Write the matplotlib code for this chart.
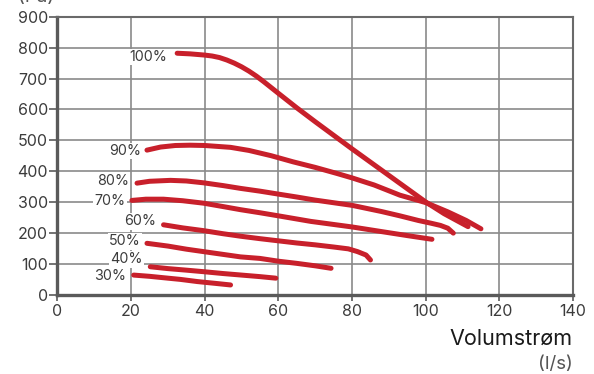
import matplotlib

matplotlib.use("Agg")

import matplotlib.pyplot as plt

plt.rcParams["font.family"] = ["Inter", "DejaVu Sans"]

RED = "#c8202b"
GRID = "#8a8a8a"
AXIS = "#5a5a5a"
TEXT = "#3c3c3c"

# fan curves: flow (l/s) vs pressure (Pa)
x_100 = [32.5, 36, 40, 42, 44, 46, 48, 50, 52, 54, 56, 58, 60, 65, 70, 75, 80,
         85, 90, 95, 100, 105, 111.5]
y_100 = [782, 780, 776, 773, 768, 760, 750, 738, 724, 708, 690, 671, 652, 605, 560, 516,
         472, 429, 386, 343, 300, 262, 220]

x_90 = [24.3, 28, 32, 36, 40, 47, 52, 58, 64, 70, 76, 80, 86, 93, 100, 106, 111, 115]
y_90 = [468, 478, 483, 484, 483, 477, 467, 450, 430, 412, 392, 378, 355, 322, 298, 268, 240, 213]

x_80 = [21.6, 25, 30.7, 35, 39.7, 45, 49.7, 55, 59.7, 65, 70, 80, 88, 93, 98, 101.5, 104, 106, 107.5]
y_80 = [361, 367, 370, 368, 362, 353, 344, 335, 326, 316, 306, 289, 269, 255, 240, 231, 224, 215, 199]

x_70 = [20.2, 24, 28.8, 34, 39.7, 45, 49.7, 55, 60, 68.8, 80, 88, 95, 101.7]
y_70 = [305, 309, 309, 304, 296, 285, 275, 265, 255, 237, 219, 204, 191, 179]

x_60 = [28.8, 34, 39.7, 45, 49.7, 55, 60, 65, 70, 75, 79, 81.5, 83.8, 85]
y_60 = [226, 216, 207, 197, 189, 181, 174, 167, 161, 154, 148, 139, 128, 112]

x_50 = [24.3, 30, 35, 39.7, 45, 49.7, 55, 60, 65, 70, 74.3]
y_50 = [166, 157, 147, 139, 130, 122, 117, 108, 101, 93, 85]

x_40 = [25.2, 30, 35, 39.7, 45, 50, 55, 59.3]
y_40 = [90, 84, 79, 74, 68, 63, 58, 53]

x_30 = [20.7, 25, 30, 33.4, 38, 43, 47]
y_30 = [63, 59, 53, 49, 42, 36, 31]

curves = [
    ("100%", x_100, y_100, (29.8, 770)),
    ("90%", x_90, y_90, (22.6, 465)),
    ("80%", x_80, y_80, (19.4, 368)),
    ("70%", x_70, y_70, (18.6, 304)),
    ("60%", x_60, y_60, (26.7, 237)),
    ("50%", x_50, y_50, (22.6, 172)),
    ("40%", x_40, y_40, (23.2, 114)),
    ("30%", x_30, y_30, (18.6, 59)),
]

x_ticks = [0, 20, 40, 60, 80, 100, 120, 140]
y_ticks = [0, 100, 200, 300, 400, 500, 600, 700, 800, 900]


def main() -> None:
    fig = plt.figure(figsize=(5.94, 3.74), dpi=100)
    ax = fig.add_axes([0.0968, 0.2125, 0.8678, 0.7425])

    for label, xs, ys, (lx, ly) in curves:
        ax.plot(xs, ys, color=RED, lw=3.6, solid_capstyle="round",
                solid_joinstyle="round", zorder=4)
        ax.text(lx, ly, label, ha="right", va="center", fontsize=10.3,
                color=TEXT, zorder=3,
                bbox=dict(boxstyle="square,pad=0.1", fc="white", ec="none"))

    ax.set_xlim(0, 140)
    ax.set_ylim(0, 900)
    ax.set_xticks(x_ticks)
    ax.set_yticks(y_ticks)
    ax.grid(True, color=GRID, lw=1.2, zorder=1)
    ax.set_axisbelow(True)

    for side in ("left", "bottom"):
        ax.spines[side].set_color(AXIS)
        ax.spines[side].set_linewidth(2.4)
    for side in ("top", "right"):
        ax.spines[side].set_color("#6a6a6a")
        ax.spines[side].set_linewidth(1.5)

    ax.tick_params(axis="y", direction="out", length=6, width=1.2,
                   color=AXIS, pad=1, labelsize=11.5, labelcolor=TEXT)
    ax.tick_params(axis="x", direction="out", length=4, width=1.2,
                   color=AXIS, pad=3, labelsize=11.5, labelcolor=TEXT)

    # axis titles sit outside the axes, as in the original
    fig.text(0.964, 0.078, "Volumstrøm", ha="right", va="baseline",
             fontsize=15.5, color="#1a1a1a")
    fig.text(0.964, 0.013, "(l/s)", ha="right", va="baseline",
             fontsize=13.5, color="#555555")
    fig.text(0.03, 0.994, "(Pa)", ha="left", va="baseline",
             fontsize=13.5, color="#555555")

    fig.savefig("out.png", dpi=100)
    plt.close(fig)


if __name__ == "__main__":
    main()
